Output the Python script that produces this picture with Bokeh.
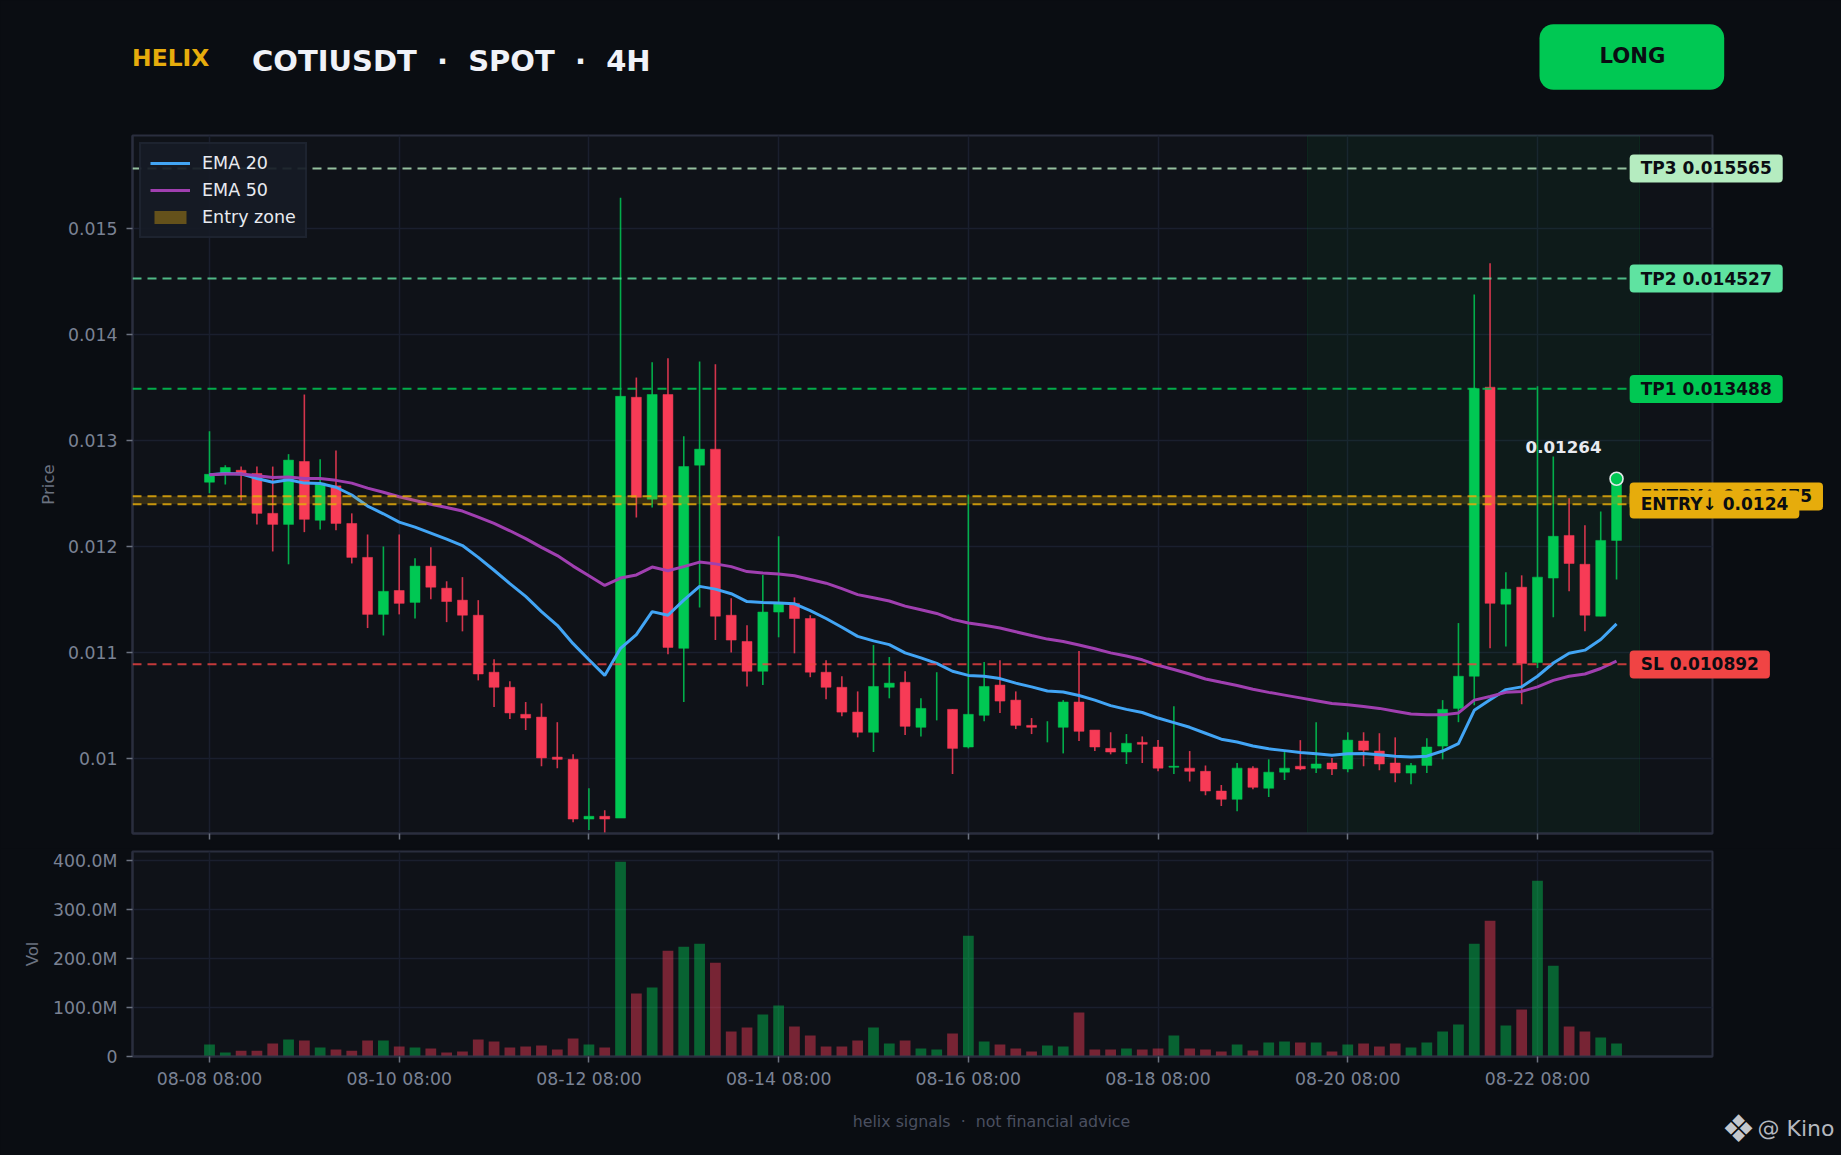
from bokeh.embed import file_html
from bokeh.resources import INLINE
from bokeh.layouts import column
from bokeh.models import (ColumnDataSource, Range1d, FixedTicker, Span, Label, BoxAnnotation,
                          Legend, LegendItem)
from bokeh.plotting import figure

symbol_title = "COTIUSDT \u00a0·\u00a0 SPOT \u00a0·\u00a0 4H"
footer_text = "helix signals \u00a0·\u00a0 not financial advice"
tick_idx = [0, 12, 24, 36, 48, 60, 72, 84]
tick_labels = ["08-08 08:00", "08-10 08:00", "08-12 08:00", "08-14 08:00",
               "08-16 08:00", "08-18 08:00", "08-20 08:00", "08-22 08:00"]

opens = [0.012608,0.012690,0.012720,0.012690,0.012314,0.012210,0.012803,0.012249,0.012573,0.012219,
         0.011899,0.011362,0.011587,0.011475,0.011817,0.011609,0.011496,0.011354,0.010817,0.010675,
         0.010420,0.010394,0.010017,0.009996,0.009433,0.009459,0.009442,0.013408,0.012448,0.013434,
         0.011042,0.012768,0.012919,0.011354,0.011107,0.010826,0.011384,0.011466,0.011323,0.010817,
         0.010675,0.010441,0.010251,0.010675,0.010722,0.010298,0.010606,0.010467,0.010112,0.010411,
         0.010696,0.010554,0.010316,0.010264,0.010298,0.010536,0.010272,0.010099,0.010065,0.010156,
         0.010112,0.009922,0.009913,0.009883,0.009697,0.009619,0.009913,0.009723,0.009875,0.009931,
         0.009913,0.009961,0.009905,0.010169,0.010074,0.009961,0.009866,0.009939,0.010121,0.010476,
         0.010779,0.013503,0.011458,0.011618,0.010908,0.011704,0.012106,0.011834,0.011345,0.012059]
highs = [0.013088,0.012768,0.012755,0.012755,0.012755,0.012872,0.013434,0.012824,0.012906,0.012314,
         0.012115,0.012002,0.012115,0.011890,0.011994,0.011674,0.011713,0.011496,0.010939,0.010731,
         0.010536,0.010523,0.010346,0.010043,0.009723,0.009516,0.015289,0.013594,0.013737,0.013776,
         0.013040,0.013745,0.013720,0.011514,0.011259,0.011734,0.012098,0.011522,0.011354,0.010930,
         0.010779,0.010636,0.011073,0.010960,0.010826,0.010571,0.010817,0.010467,0.012491,0.010913,
         0.010930,0.010636,0.010385,0.010355,0.010554,0.011016,0.010272,0.010251,0.010234,0.010212,
         0.010177,0.010497,0.010074,0.009939,0.009753,0.009961,0.009931,0.009996,0.010065,0.010177,
         0.010346,0.010009,0.010251,0.010251,0.010242,0.010203,0.009961,0.010195,0.010554,0.011280,
         0.014377,0.014671,0.011760,0.011730,0.013512,0.012850,0.012457,0.012201,0.012331,0.012640]
lows = [0.012504,0.012586,0.012435,0.012210,0.011955,0.011834,0.012137,0.012163,0.012154,0.011842,
        0.011233,0.011163,0.011362,0.011323,0.011505,0.011289,0.011202,0.010740,0.010489,0.010376,
        0.010272,0.009931,0.009913,0.009403,0.009330,0.009304,0.009442,0.012275,0.012370,0.010986,
        0.010536,0.011427,0.011120,0.011003,0.010683,0.010696,0.011146,0.010995,0.010770,0.010562,
        0.010402,0.010203,0.010065,0.010571,0.010225,0.010212,0.010363,0.009857,0.010099,0.010355,
        0.010433,0.010281,0.010234,0.010156,0.010052,0.010169,0.010074,0.010043,0.009952,0.009961,
        0.009883,0.009857,0.009788,0.009658,0.009555,0.009507,0.009715,0.009641,0.009801,0.009892,
        0.009866,0.009849,0.009875,0.009931,0.009892,0.009779,0.009762,0.009866,0.009996,0.010346,
        0.010506,0.011042,0.011060,0.010515,0.010856,0.011336,0.011579,0.011202,0.011345,0.011691]
closes = [0.012682,0.012746,0.012686,0.012314,0.012210,0.012816,0.012258,0.012599,0.012219,0.011899,
          0.011362,0.011579,0.011466,0.011817,0.011618,0.011483,0.011354,0.010800,0.010675,0.010433,
          0.010385,0.010009,0.009996,0.009433,0.009459,0.009433,0.013417,0.012465,0.013434,0.011051,
          0.012755,0.012919,0.011345,0.011120,0.010826,0.011384,0.011475,0.011323,0.010817,0.010675,
          0.010441,0.010251,0.010683,0.010714,0.010307,0.010476,0.010606,0.010099,0.010420,0.010683,
          0.010545,0.010316,0.010298,0.010264,0.010536,0.010260,0.010112,0.010065,0.010147,0.010138,
          0.009913,0.009931,0.009883,0.009697,0.009619,0.009913,0.009732,0.009875,0.009913,0.009905,
          0.009952,0.009905,0.010177,0.010082,0.009952,0.009866,0.009939,0.010112,0.010467,0.010779,
          0.013490,0.011466,0.011600,0.010900,0.011713,0.012098,0.011842,0.011354,0.012059,0.012640]
ema20 = [0.012677,0.012690,0.012686,0.012643,0.012608,0.012630,0.012599,0.012595,0.012560,0.012487,
         0.012383,0.012310,0.012232,0.012184,0.012128,0.012072,0.012011,0.011899,0.011778,0.011652,
         0.011531,0.011388,0.011259,0.011086,0.010934,0.010787,0.011042,0.011172,0.011388,0.011354,
         0.011496,0.011626,0.011600,0.011557,0.011483,0.011475,0.011470,0.011462,0.011397,0.011323,
         0.011241,0.011155,0.011112,0.011077,0.010999,0.010952,0.010900,0.010826,0.010787,0.010779,
         0.010757,0.010714,0.010679,0.010640,0.010631,0.010597,0.010554,0.010502,0.010467,0.010437,
         0.010385,0.010342,0.010298,0.010242,0.010186,0.010160,0.010121,0.010095,0.010078,0.010061,
         0.010048,0.010035,0.010048,0.010052,0.010039,0.010026,0.010017,0.010026,0.010074,0.010143,
         0.010458,0.010558,0.010653,0.010679,0.010779,0.010904,0.010995,0.011025,0.011125,0.011272]
ema50 = [0.012677,0.012686,0.012686,0.012669,0.012651,0.012656,0.012643,0.012643,0.012625,0.012599,
         0.012552,0.012513,0.012470,0.012435,0.012400,0.012370,0.012336,0.012279,0.012219,0.012150,
         0.012076,0.011994,0.011916,0.011817,0.011726,0.011635,0.011704,0.011734,0.011808,0.011773,
         0.011812,0.011855,0.011838,0.011812,0.011765,0.011752,0.011743,0.011726,0.011691,0.011656,
         0.011604,0.011548,0.011518,0.011488,0.011440,0.011406,0.011371,0.011315,0.011280,0.011259,
         0.011233,0.011198,0.011163,0.011129,0.011107,0.011073,0.011038,0.010999,0.010969,0.010934,
         0.010882,0.010843,0.010800,0.010753,0.010722,0.010692,0.010657,0.010627,0.010601,0.010575,
         0.010549,0.010523,0.010510,0.010493,0.010476,0.010450,0.010424,0.010415,0.010415,0.010433,
         0.010554,0.010588,0.010627,0.010636,0.010679,0.010740,0.010779,0.010800,0.010852,0.010921]
volume_m = [24.5,8,12,12,26.5,34.7,32.7,18.4,14.3,12,
            32.7,32.7,20.4,18.4,16.3,8.2,10.2,34.7,30.6,18.4,
            20.4,22.4,14.3,36.7,24.5,18.4,398,128.6,140.8,216,
            224.5,230.6,191.8,51,59.2,85.7,104,61.2,42.9,20.4,
            20.4,32.7,59.2,26.5,32.7,16.3,14.3,47,247,30.6,
            24.5,16.3,10.2,22.4,20.4,89.8,14.3,14.3,16.3,14.3,
            16.3,42.9,16.3,14.3,10.2,24.5,12.2,28.6,30.6,28.6,
            28.6,10.2,24.5,26.5,20.4,26.5,18.4,28.6,51,65.3,
            230.6,277.6,63.3,95.9,359,185.7,61.2,51,38.8,26.5]
tp3, tp2, tp1 = 0.015565, 0.014527, 0.013488
entry_hi, entry_lo = 0.012475, 0.0124
stop = 0.010892
last_price = 0.01264
zone_start, zone_end = 69.45, 90.45

PAGE = "#0a0d12"; PANEL = "#0f1218"; GRID = "#1a1f2e"; FRAME = "#2a2e3e"
GREEN = "#00c853"; RED = "#f73b56"; GOLD = "#e6ac0c"; TICK = "#7a8294"
FONT = "DejaVu Sans"
WIDTH, HEIGHT = 1841, 1155
X0, X1 = -4.87, 95.07
Y0, Y1 = 0.009297, 0.015875
FRAME_L, FRAME_R, FRAME_T, FRAME_B = 132, 1712, 135, 833.3

idx = list(range(len(opens)))
colors = [GREEN if c >= o else RED for o, c in zip(opens, closes)]
src = ColumnDataSource(dict(x=idx, o=opens, h=highs, l=lows, c=closes, color=colors,
                            body_alpha=[0 if o == c else 1 for o, c in zip(opens, closes)],
                            top=[max(o, c) for o, c in zip(opens, closes)],
                            bot=[min(o, c) for o, c in zip(opens, closes)],
                            vol=[v * 1e6 for v in volume_m]))
x_range = Range1d(X0, X1)


def style(p):
    p.background_fill_color = PANEL
    p.border_fill_color = PAGE
    p.outline_line_color = FRAME
    p.outline_line_width = 2
    for g in (p.xgrid, p.ygrid):
        g.grid_line_color = GRID
        g.grid_line_width = 1.5
    for ax in (p.xaxis, p.yaxis):
        ax.axis_line_color = FRAME
        ax.axis_line_width = 2
        ax.major_tick_line_color = "#6b7280"
        ax.major_tick_line_width = 1.5
        ax.major_tick_out = 6
        ax.major_tick_in = 0
        ax.minor_tick_line_color = None
        ax.major_label_text_color = TICK
        ax.major_label_text_font = FONT
        ax.major_label_text_font_size = "17.3px"
        ax.axis_label_text_color = "#6b7280"
        ax.axis_label_text_font = FONT
        ax.axis_label_text_font_size = "16.5px"
        ax.axis_label_text_font_style = "normal"
    p.xaxis.ticker = FixedTicker(ticks=tick_idx)


main = figure(width=WIDTH, height=848, x_range=x_range, y_range=Range1d(Y0, Y1),
              output_backend="svg", toolbar_location=None,
              min_border_left=132, min_border_right=129, min_border_top=135, min_border_bottom=15)
style(main)
main.xaxis.major_label_overrides = {t: "" for t in tick_idx}
main.xaxis.major_label_standoff = 0
main.xaxis.major_label_text_font_size = "1px"
main.yaxis.ticker = FixedTicker(ticks=[0.01, 0.011, 0.012, 0.013, 0.014, 0.015])
main.yaxis.major_label_overrides = {0.01: "0.01", 0.011: "0.011", 0.012: "0.012",
                                    0.013: "0.013", 0.014: "0.014", 0.015: "0.015"}
main.yaxis.axis_label = "Price"
main.yaxis.major_label_standoff = 9
main.yaxis.axis_label_standoff = 7

main.add_layout(BoxAnnotation(left=zone_start, right=zone_end, fill_color=GREEN, fill_alpha=0.05,
                              line_color=GREEN, line_alpha=0.1, line_width=1, level="underlay"))

main.segment("x", "h", "x", "l", source=src, color="color", line_width=1.6, line_alpha=0.85)
main.vbar("x", 0.63, "bot", "top", source=src, fill_color="color", line_color="color", line_width=0.5,
          fill_alpha="body_alpha", line_alpha="body_alpha")

r20 = main.line(idx, ema20, line_color="#42a5f5", line_width=3)
r50 = main.line(idx, ema50, line_color="#a03fb0", line_width=3)

main.add_layout(BoxAnnotation(bottom=entry_lo, top=entry_hi, fill_color=GOLD, fill_alpha=0.18,
                              line_alpha=0))
swatch = main.quad(left=[0], right=[0], bottom=[entry_lo], top=[entry_hi],
                   fill_color=GOLD, fill_alpha=0.38, line_alpha=0)

levels = [(tp3, "#b5ecc0", "TP3 0.015565", 0.8), (tp2, "#5fe3a1", "TP2 0.014527", 0.8),
          (tp1, GREEN, "TP1 0.013488", 0.85), (stop, "#f04444", "SL 0.010892", 0.8),
          (entry_hi, GOLD, "ENTRY↑ 0.012475", 0.85), (entry_lo, GOLD, "ENTRY↓ 0.0124", 0.85)]
for val, col, _, a in levels:
    main.add_layout(Span(location=val, dimension="width", line_color=col, line_alpha=a,
                         line_width=2, line_dash="9 6"))

main.scatter([idx[-1]], [last_price], size=13, marker="circle", fill_color=GREEN,
             line_color="#e4e8ea", line_width=1.6)

legend = Legend(items=[LegendItem(label="EMA 20", renderers=[r20]),
                       LegendItem(label="EMA 50", renderers=[r50]),
                       LegendItem(label="Entry zone", renderers=[swatch])],
                location="top_left", margin=7, padding=9, spacing=7,
                glyph_width=40, glyph_height=16, label_height=18, label_standoff=12,
                label_text_font=FONT, label_text_font_size="17.5px", label_text_color="#e8eaf0",
                background_fill_color="#161b26", background_fill_alpha=0.92,
                border_line_color="#262b3a", border_line_width=2)
main.add_layout(legend, "center")

vol = figure(width=WIDTH, height=307, x_range=x_range, y_range=Range1d(0, 419e6),
             output_backend="svg", toolbar_location=None,
             min_border_left=132, min_border_right=129, min_border_top=3, min_border_bottom=99)
style(vol)
vol.xaxis.major_label_overrides = dict(zip(tick_idx, tick_labels))
vol.xaxis.major_label_standoff = 6
vol.yaxis.ticker = FixedTicker(ticks=[0, 100e6, 200e6, 300e6, 400e6])
vol.yaxis.major_label_overrides = {0: "0", 100e6: "100.0M", 200e6: "200.0M", 300e6: "300.0M", 400e6: "400.0M"}
vol.yaxis.axis_label = "Vol"
vol.yaxis.major_label_standoff = 9
vol.yaxis.axis_label_standoff = 8
vol.vbar("x", 0.68, 0, "vol", source=src, fill_color="color", fill_alpha=0.45, line_alpha=0)

# Transparent full-page layer: annotations are clipped to their own frame, and the level tags,
# header and footer lie outside the panels. It shares the panels' data scale, extended to the page.
dx = (X1 - X0) / (FRAME_R - FRAME_L)
dy = (Y1 - Y0) / (FRAME_B - FRAME_T)
over = figure(width=WIDTH, height=HEIGHT, output_backend="svg", toolbar_location=None,
              x_range=Range1d(X0 - FRAME_L * dx, X1 + (WIDTH - FRAME_R) * dx),
              y_range=Range1d(Y0 - (HEIGHT - FRAME_B) * dy, Y1 + FRAME_T * dy),
              x_axis_location=None, y_axis_location=None, min_border=0,
              margin=(-HEIGHT, 0, 0, 0))
over.grid.visible = False
over.outline_line_color = None
over.background_fill_alpha = 0
over.border_fill_alpha = 0

for val, col, txt, _ in levels:
    over.add_layout(Label(x=89.83, y=val, text=txt, text_align="left", text_baseline="middle",
                          text_font=FONT, text_font_style="bold", text_font_size="17px",
                          text_color=PAGE, background_fill_color=col, padding=(11, 4),
                          border_radius=4))

over.add_layout(Label(x=idx[-1], y=last_price, x_offset=-53, y_offset=32, text="0.01264",
                      text_align="center", text_baseline="middle", text_font=FONT,
                      text_font_style="bold", text_font_size="16.7px", text_color="#e8eaf0"))
over.add_layout(Label(x=131.6, y=57, x_units="canvas", y_units="canvas", text="HELIX",
                      text_align="left", text_baseline="middle", text_font=FONT,
                      text_font_style="bold", text_font_size="23.4px", text_color=GOLD))
over.add_layout(Label(x=251.5, y=60, x_units="canvas", y_units="canvas", text=symbol_title,
                      text_align="left", text_baseline="middle", text_font=FONT,
                      text_font_style="bold", text_font_size="29px", text_color="#f0f2f8"))
over.add_layout(BoxAnnotation(left=1539, right=1723.7, top=23.7, bottom=89.3,
                              left_units="canvas", right_units="canvas",
                              top_units="canvas", bottom_units="canvas",
                              fill_color=GREEN, fill_alpha=1, line_alpha=0, border_radius=14))
over.add_layout(Label(x=1632, y=55, x_units="canvas", y_units="canvas", text="LONG",
                      text_align="center", text_baseline="middle", text_font=FONT,
                      text_font_style="bold", text_font_size="21.2px", text_color=PAGE))
over.add_layout(Label(x=991, y=1121, x_units="canvas", y_units="canvas",
                      text=footer_text, text_align="center",
                      text_baseline="middle", text_font=FONT, text_font_size="15.8px", text_color="#4a5060"))
over.add_layout(Label(x=1738, y=1128, x_units="canvas", y_units="canvas", text="❖",
                      text_align="center", text_baseline="middle", text_font=FONT,
                      text_font_size="38px", text_color="#c4c7cc"))
over.add_layout(Label(x=1757, y=1128, x_units="canvas", y_units="canvas", text="@ Kino",
                      text_align="left", text_baseline="middle", text_font=FONT,
                      text_font_size="22px", text_color="#b5b8bf"))

panels = column(main, vol, spacing=0)
html = file_html([panels, over], INLINE)
html = html.replace("</head>", "<style>html,body{background:#0a0d12;overflow:hidden}</style></head>", 1)
open("out.html", "w").write(html)
